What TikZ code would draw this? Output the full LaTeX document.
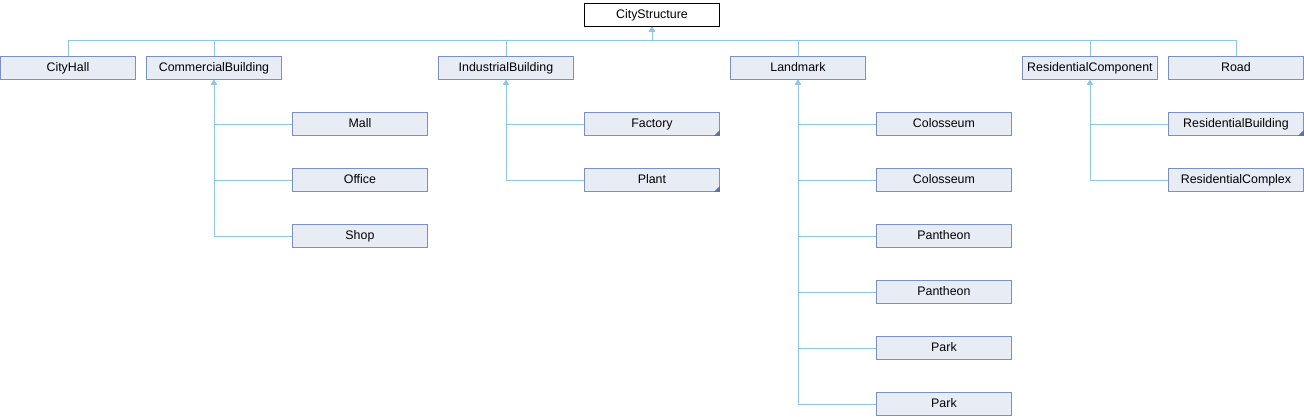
\documentclass[tikz,border=0pt]{standalone}
\usepackage{fontspec}
\setmainfont{Liberation Sans}
\usetikzlibrary{arrows.meta}
\definecolor{boxfill}{HTML}{E8ECF5}
\definecolor{boxline}{HTML}{7A8FC8}
\definecolor{edgecol}{HTML}{8CC8E6}
\definecolor{cornercol}{HTML}{5C72B0}
\tikzset{
  cls/.style={rectangle, draw=boxline, fill=boxfill, line width=0.9pt, minimum width=135pt, minimum height=23pt, inner sep=0pt, text height=9pt, text depth=2.5pt, anchor=north west, font=\fontsize{12.4}{14}\selectfont},
  rootcls/.style={cls, draw=black, fill=white},
  edge/.style={draw=edgecol, line width=0.9pt, -{Triangle[width=6pt,length=5pt]}},
  corner/.style={fill=cornercol}
}
\newcommand{\cornermark}[1]{\fill[corner] (#1.south east) -- ++(-6pt,0) -- ++(6pt,6pt) -- cycle;}
\begin{document}
\begin{tikzpicture}[x=1pt,y=1pt]
\useasboundingbox (0,0) rectangle (1304,-416);
\node[rootcls] (root) at (584,-3) {CityStructure};
\node[cls] (cityhall) at (0,-56) {CityHall};
\node[cls] (comm) at (146,-56) {CommercialBuilding};
\node[cls] (ind) at (438,-56) {IndustrialBuilding};
\node[cls] (land) at (730,-56) {Landmark};
\node[cls] (rescomp) at (1022,-56) {ResidentialComponent};
\node[cls] (road) at (1168,-56) {Road};
\node[cls] (mall) at (292,-112) {Mall};
\node[cls] (office) at (292,-168) {Office};
\node[cls] (shop) at (292,-224) {Shop};
\node[cls] (factory) at (584,-112) {Factory};
\node[cls] (plant) at (584,-168) {Plant};
\node[cls] (col1) at (876,-112) {Colosseum};
\node[cls] (col2) at (876,-168) {Colosseum};
\node[cls] (pan1) at (876,-224) {Pantheon};
\node[cls] (pan2) at (876,-280) {Pantheon};
\node[cls] (park1) at (876,-336) {Park};
\node[cls] (park2) at (876,-392) {Park};
\node[cls] (resbld) at (1168,-112) {ResidentialBuilding};
\node[cls] (rescx) at (1168,-168) {ResidentialComplex};
\cornermark{factory}
\cornermark{plant}
\cornermark{resbld}
\coordinate (bar) at (0,-40);
\foreach \c in {cityhall,comm,ind,land,rescomp,road}
  \draw[edge] (\c.north) |- (bar -| root.south) -- (root.south);
\foreach \c in {mall,office,shop}
  \draw[edge] (\c.west) -| (comm.south);
\foreach \c in {factory,plant}
  \draw[edge] (\c.west) -| (ind.south);
\foreach \c in {col1,col2,pan1,pan2,park1,park2}
  \draw[edge] (\c.west) -| (land.south);
\foreach \c in {resbld,rescx}
  \draw[edge] (\c.west) -| (rescomp.south);
\end{tikzpicture}
\end{document}
